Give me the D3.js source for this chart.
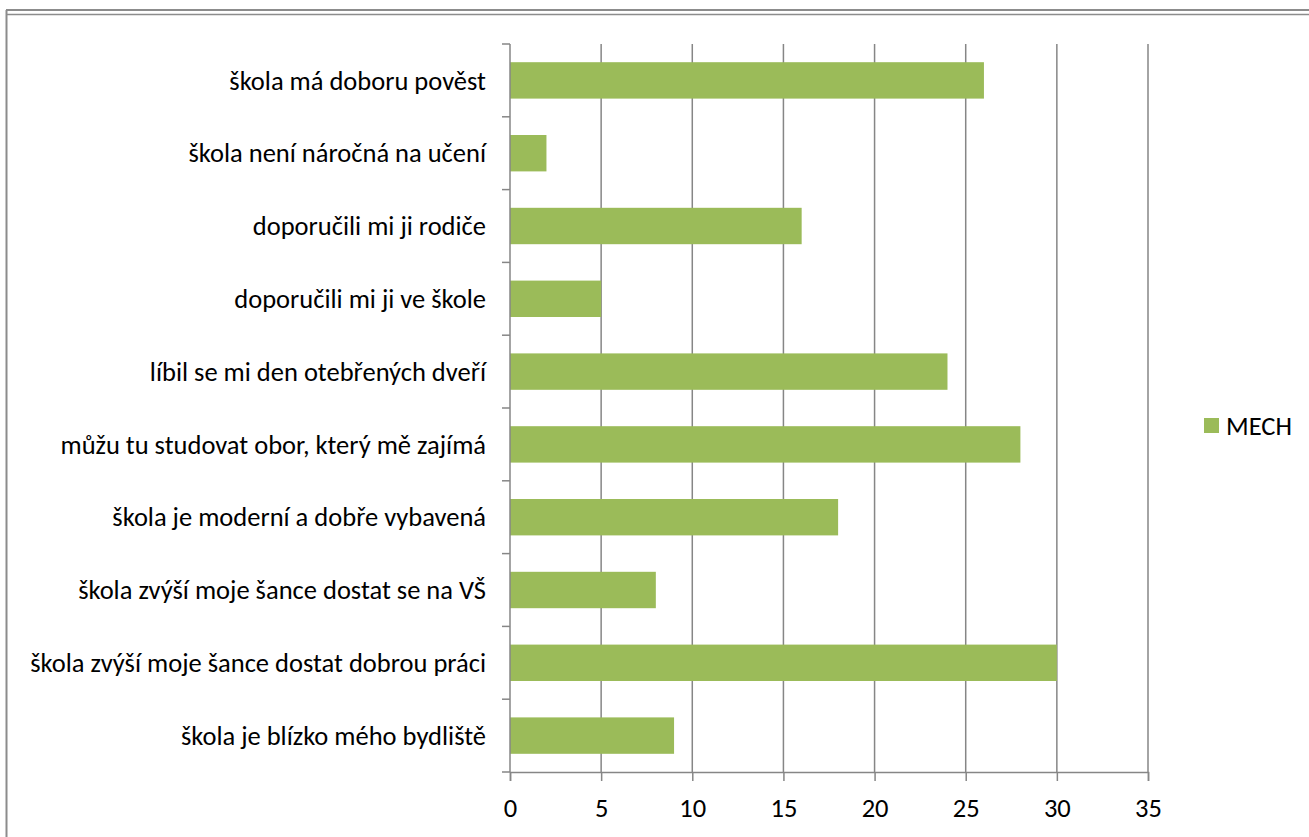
<!DOCTYPE html>
<html>
<head>
<meta charset="utf-8">
<script src="https://cdn.jsdelivr.net/npm/d3@7"></script>
<style>
  body { margin: 0; background: #fff; }
  text { font-family: Carlito, Calibri, Lato, sans-serif; fill: #000; }
</style>
</head>
<body>
<div id="chart"></div>
<script>
// Data
const categories = [
  'škola má doboru pověst',
  'škola není náročná na učení',
  'doporučili mi ji rodiče',
  'doporučili mi ji ve škole',
  'líbil se mi den otebřených dveří',
  'můžu tu studovat obor, který mě zajímá',
  'škola je moderní a dobře vybavená',
  'škola zvýší moje šance dostat se na VŠ',
  'škola zvýší moje šance dostat dobrou práci',
  'škola je blízko mého bydliště'
];
const values = [26, 2, 16, 5, 24, 28, 18, 8, 30, 9];
const xTicks = [0, 5, 10, 15, 20, 25, 30, 35];
const seriesName = 'MECH';

const width = 1309, height = 837;
const plot = { left: 510, right: 1148, top: 44, bottom: 772 };
const fontSize = '26.5px';

const svg = d3.select('#chart').append('svg')
  .attr('width', width)
  .attr('height', height);

// chart border (double line on top, single on the left)
svg.append('line').attr('x1', 6).attr('x2', width).attr('y1', 10).attr('y2', 10)
  .attr('stroke', '#8c8c8c').attr('stroke-width', 2);
svg.append('line').attr('x1', 6).attr('x2', width).attr('y1', 14.5).attr('y2', 14.5)
  .attr('stroke', '#8c8c8c').attr('stroke-width', 1.5);
svg.append('line').attr('x1', 6.5).attr('x2', 6.5).attr('y1', 10).attr('y2', height)
  .attr('stroke', '#8c8c8c').attr('stroke-width', 2);

const x = d3.scaleLinear().domain([0, 35]).range([plot.left, plot.right]);
const y = d3.scaleBand().domain(categories).range([plot.top, plot.bottom]).paddingInner(0.5).paddingOuter(0.25);

// vertical gridlines
svg.append('g')
  .selectAll('line')
  .data(xTicks.slice(1))
  .join('line')
  .attr('x1', d => x(d)).attr('x2', d => x(d))
  .attr('y1', plot.top).attr('y2', plot.bottom)
  .attr('stroke', '#868686').attr('stroke-width', 1.5);

// bars
svg.append('g')
  .selectAll('rect')
  .data(values)
  .join('rect')
  .attr('x', x(0))
  .attr('y', (d, i) => y(categories[i]))
  .attr('width', d => x(d) - x(0))
  .attr('height', y.bandwidth())
  .attr('fill', '#9bbb59');

// x axis
const xAxis = svg.append('g')
  .attr('transform', `translate(0,${plot.bottom})`)
  .call(d3.axisBottom(x).tickValues(xTicks).tickSize(9).tickPadding(17));
xAxis.attr('font-family', null).attr('font-size', null);
xAxis.select('.domain').attr('stroke', '#868686').attr('stroke-width', 1.5);
xAxis.selectAll('.tick line').attr('stroke', '#868686').attr('stroke-width', 1.5);
xAxis.selectAll('.tick text').style('font-size', fontSize).attr('fill', '#000');

// y axis: line plus ticks at category boundaries
const step = (plot.bottom - plot.top) / categories.length;
svg.append('line')
  .attr('x1', x(0)).attr('x2', x(0))
  .attr('y1', plot.top).attr('y2', plot.bottom)
  .attr('stroke', '#868686').attr('stroke-width', 1.5);
svg.append('g')
  .selectAll('line')
  .data(d3.range(categories.length + 1))
  .join('line')
  .attr('x1', x(0) - 8).attr('x2', x(0))
  .attr('y1', i => plot.top + i * step).attr('y2', i => plot.top + i * step)
  .attr('stroke', '#868686').attr('stroke-width', 1.5);

svg.append('g')
  .selectAll('text')
  .data(categories)
  .join('text')
  .attr('x', x(0) - 24)
  .attr('y', d => y(d) + y.bandwidth() / 2)
  .attr('dy', '0.35em')
  .attr('text-anchor', 'end')
  .style('font-size', fontSize)
  .text(d => d);

// legend
const legend = svg.append('g').attr('transform', 'translate(1204,418)');
legend.append('rect').attr('width', 15).attr('height', 15).attr('fill', '#9bbb59');
legend.append('text').attr('x', 22).attr('y', 8).attr('dy', '0.35em')
  .style('font-size', fontSize).text(seriesName);
</script>
</body>
</html>
